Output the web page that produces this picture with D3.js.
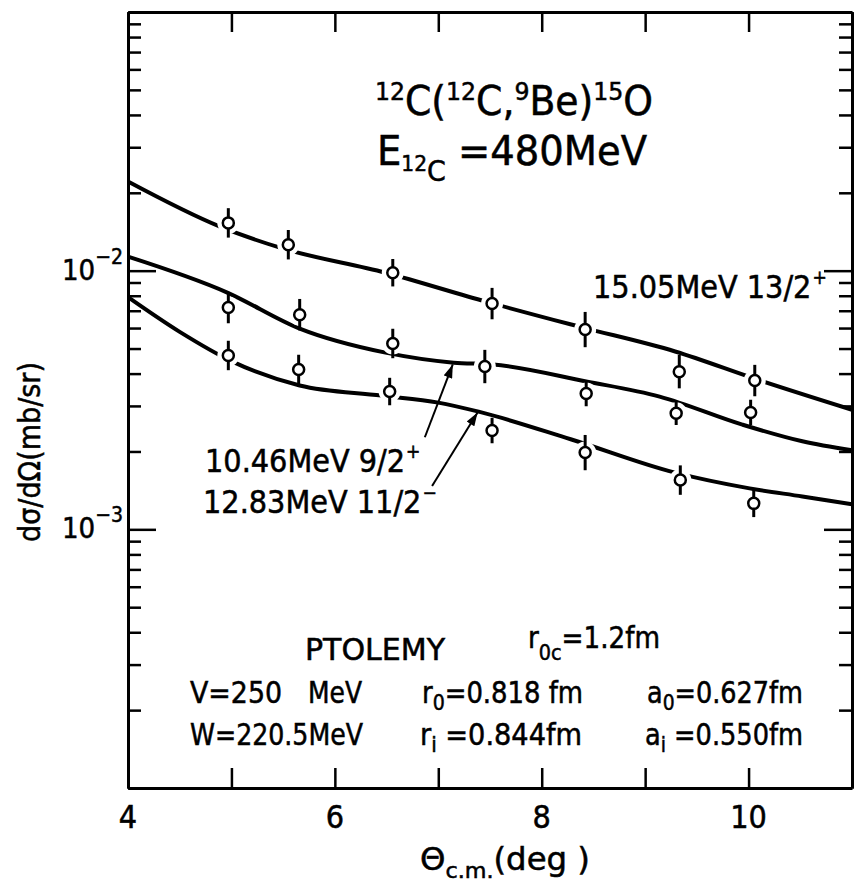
<!DOCTYPE html>
<html>
<head>
<meta charset="utf-8">
<script src="https://cdn.jsdelivr.net/npm/d3@7"></script>
<style>
body { margin: 0; background: #fff; }
text { font-family: "DejaVu Sans Condensed", "DejaVu Sans", sans-serif; font-stretch: condensed; fill: #000; stroke: #000; stroke-width: 0.5px; }
</style>
</head>
<body>
<svg width="857" height="891"></svg>
<script>
// axis ticks
var xTicks = [4, 5, 6, 7, 8, 9, 10, 11];
var xLabels = [4, 6, 8, 10];
var yLabelExps = [-2, -3];

// measured cross sections (deg, mb/sr, relative error)
var angTop = [4.97, 5.55, 6.56, 7.52, 8.42, 9.33, 10.06];
var sigTop = [0.0153, 0.0126, 0.00982, 0.00746, 0.00592, 0.00407, 0.00376];
var errTop = [0.14, 0.14, 0.13, 0.15, 0.17, 0.16, 0.15];

var angMid = [4.97, 5.66, 6.56, 7.45, 8.43, 9.30, 10.02];
var sigMid = [0.0072, 0.00676, 0.00523, 0.00426, 0.00335, 0.00281, 0.00283];
var errMid = [0.15, 0.15, 0.14, 0.16, 0.12, 0.11, 0.12];

var angBot = [4.97, 5.65, 6.53, 7.52, 8.42, 9.34, 10.05];
var sigBot = [0.0047, 0.00415, 0.00341, 0.00241, 0.00198, 0.00155, 0.00126];
var errBot = [0.14, 0.14, 0.13, 0.12, 0.17, 0.14, 0.13];

// PTOLEMY curves
var thTopX = [4.0, 4.89, 5.47, 6.49, 7.46, 8.36, 9.29, 10.08, 11.0];
var thTopY = [0.0221, 0.01479, 0.01227, 0.00982, 0.00759, 0.00608, 0.00487, 0.0038, 0.0029];

var thMidX = [4.0, 4.96, 5.66, 6.49, 7.15, 7.53, 8.43, 9.14, 9.94, 10.52, 11.0];
var thMidY = [0.01133, 0.00823, 0.00597, 0.00482, 0.00441, 0.00434, 0.00373, 0.00326, 0.00254, 0.00219, 0.00202];

var thBotX = [4.0, 4.5, 5.01, 5.66, 6.45, 7.0, 7.39, 8.28, 9.28, 10.01, 10.52, 11.0];
var thBotY = [0.0079, 0.0058, 0.00445, 0.0036, 0.00329, 0.00309, 0.00285, 0.00223, 0.00166, 0.00144, 0.00134, 0.00125];

var svg = d3.select('svg');
var x = d3.scaleLinear().domain([4, 11]).range([128, 852]);
var y = d3.scaleLog().domain([1e-4, 1e-1]).range([788, 12]);

var isMajor = function(d) {
    var l = Math.log10(d);
    return Math.abs(l - Math.round(l)) < 1e-6;
};
var yMajor = y.ticks().filter(isMajor);
var yMinor = y.ticks().filter(function(d) {return !isMajor(d);});

function frame(g) {
    g.select('.domain').attr('stroke-width', 3);
    g.selectAll('.tick line').attr('stroke-width', 2.5);
    g.selectAll('.tick text').remove();
}

svg.append('g').attr('transform', 'translate(0,788)')
    .call(d3.axisBottom(x).tickValues(xTicks).tickSizeInner(-20).tickSizeOuter(0)).call(frame);
svg.append('g').attr('transform', 'translate(0,12)')
    .call(d3.axisTop(x).tickValues(xTicks).tickSizeInner(-20).tickSizeOuter(0)).call(frame);
svg.append('g').attr('transform', 'translate(128,0)')
    .call(d3.axisLeft(y).tickValues(yMajor).tickSizeInner(-28).tickSizeOuter(0)).call(frame);
svg.append('g').attr('transform', 'translate(128,0)')
    .call(d3.axisLeft(y).tickValues(yMinor).tickSizeInner(-13).tickSizeOuter(0)).call(frame);
svg.append('g').attr('transform', 'translate(852,0)')
    .call(d3.axisRight(y).tickValues(yMajor).tickSizeInner(-28).tickSizeOuter(0)).call(frame);
svg.append('g').attr('transform', 'translate(852,0)')
    .call(d3.axisRight(y).tickValues(yMinor).tickSizeInner(-13).tickSizeOuter(0)).call(frame);

// tick labels
svg.selectAll('.xl').data(xLabels).enter().append('text')
    .attr('x', function(d) {return x(d);})
    .attr('y', 828)
    .attr('text-anchor', 'middle')
    .style('font-size', '32px')
    .text(function(d) {return d;});

var yl = svg.selectAll('.yl').data(yLabelExps).enter().append('text')
    .attr('x', 123)
    .attr('y', function(d) {return y(Math.pow(10, d)) + 9;})
    .attr('text-anchor', 'end')
    .style('font-size', '29px');
yl.append('tspan').text('10');
yl.append('tspan').attr('dy', -16).style('font-size', '21px')
    .text(function(d) {return '\u2212' + Math.abs(d);});

// theory curves
var line = d3.line()
    .x(function(d) {return x(d[0]);})
    .y(function(d) {return y(d[1]);})
    .curve(d3.curveMonotoneX);
[[thTopX, thTopY], [thMidX, thMidY], [thBotX, thBotY]].forEach(function(c) {
    svg.append('path')
        .attr('d', line(d3.zip(c[0], c[1])))
        .attr('fill', 'none')
        .attr('stroke', '#000')
        .attr('stroke-width', 4);
});

// data points
var sets = [[angTop, sigTop, errTop], [angMid, sigMid, errMid], [angBot, sigBot, errBot]];
sets.forEach(function(s) {
    var pts = d3.zip(s[0], s[1], s[2]);
    svg.append('g').selectAll('circle').data(pts).enter().append('circle')
        .attr('cx', function(d) {return x(d[0]);})
        .attr('cy', function(d) {return y(d[1]);})
        .attr('r', 11)
        .attr('fill', '#fff');
});
sets.forEach(function(s) {
    var pts = d3.zip(s[0], s[1], s[2]);
    var g = svg.append('g');
    g.selectAll('line').data(pts).enter().append('line')
        .attr('x1', function(d) {return x(d[0]);})
        .attr('x2', function(d) {return x(d[0]);})
        .attr('y1', function(d) {return y(d[1] * (1 + d[2]));})
        .attr('y2', function(d) {return y(d[1] / (1 + d[2]));})
        .attr('stroke', '#000')
        .attr('stroke-width', 3);
    g.selectAll('circle').data(pts).enter().append('circle')
        .attr('cx', function(d) {return x(d[0]);})
        .attr('cy', function(d) {return y(d[1]);})
        .attr('r', 5.5)
        .attr('fill', '#fff')
        .attr('stroke', '#000')
        .attr('stroke-width', 2.5);
});

// arrows to the curves
var arrowTail = [[6.87, 0.00227], [6.94, 0.00147]];
var arrowHead = [[7.14, 0.00434], [7.38, 0.00283]];
svg.append('defs').append('marker')
    .attr('id', 'head')
    .attr('viewBox', '0 0 12 8')
    .attr('refX', 12).attr('refY', 4)
    .attr('markerWidth', 14).attr('markerHeight', 9)
    .attr('markerUnits', 'userSpaceOnUse')
    .attr('orient', 'auto')
    .append('path').attr('d', 'M0,0L12,4L0,8Z').attr('fill', '#000');
d3.zip(arrowTail, arrowHead).forEach(function(a) {
    svg.append('line')
        .attr('x1', x(a[0][0])).attr('y1', y(a[0][1]))
        .attr('x2', x(a[1][0])).attr('y2', y(a[1][1]))
        .attr('stroke', '#000').attr('stroke-width', 2)
        .attr('marker-end', 'url(#head)');
});

// rich text helper: parts are [string, shift, size]
function rich(px, py, size, parts, len) {
    var t = svg.append('text').attr('x', px).attr('y', py).style('font-size', size + 'px');
    var cur = 0;
    parts.forEach(function(p) {
        var shift = p[1] || 0;
        t.append('tspan')
            .attr('dy', shift - cur)
            .style('font-size', (p[2] || size) + 'px')
            .text(p[0]);
        cur = shift;
    });
    if(len) t.attr('textLength', len).attr('lengthAdjust', 'spacingAndGlyphs');
    return t;
}

// level label with a parity sign set as a separate superscript
function level(px, py, label, parity) {
    var t = svg.append('text').attr('x', px).attr('y', py).style('font-size', '32px')
        .text(label);
    var w = t.node().getComputedTextLength();
    svg.append('text').attr('x', px + w + 1).attr('y', py - 14).style('font-size', '19px')
        .text(parity);
}

// title
rich(375, 115, 40, [['12', -15, 25], ['C(', 0], ['12', -15, 25], ['C,', 0], ['9', -15, 25],
    ['Be)', 0], ['15', -15, 25], ['O', 0]], 278);
rich(377, 165, 40, [['E', 0], ['12', 6, 21], ['C', 16, 28], [' =480MeV', 0]], 270);

// state labels
level(593, 298, '15.05MeV  13/2', '+');
level(205, 472, '10.46MeV  9/2', '+');
level(203, 513, '12.83MeV  11/2', '\u2212');

// optical model parameters
rich(305, 660, 30, [['PTOLEMY', 0]], 140);
rich(528, 648, 30, [['r', 0], ['0c', 12, 22], ['=1.2fm', 0]], 132);
rich(190, 703, 30, [['V=250', 0]], 92);
rich(308, 703, 30, [['MeV', 0]], 54);
rich(422, 703, 30, [['r', 0], ['0', 7, 22], ['=0.818 fm', 0]], 161);
rich(647, 703, 30, [['a', 0], ['0', 7, 22], ['=0.627fm', 0]], 156);
rich(190, 745, 30, [['W=220.5MeV', 0]], 173);
rich(420, 745, 30, [['r', 0], ['i', 7, 22], [' =0.844fm', 0]], 162);
rich(645, 745, 30, [['a', 0], ['i', 7, 22], [' =0.550fm', 0]], 158);

// axis titles
rich(420, 870, 32, [['\u0398', 0], ['c.m.', 8, 22], ['(deg )', 0]], 170);
svg.append('text')
    .attr('transform', 'translate(40,452) rotate(-90)')
    .attr('text-anchor', 'middle')
    .style('font-size', '30px')
    .text('d\u03c3/d\u03a9(mb/sr)');
</script>
</body>
</html>
